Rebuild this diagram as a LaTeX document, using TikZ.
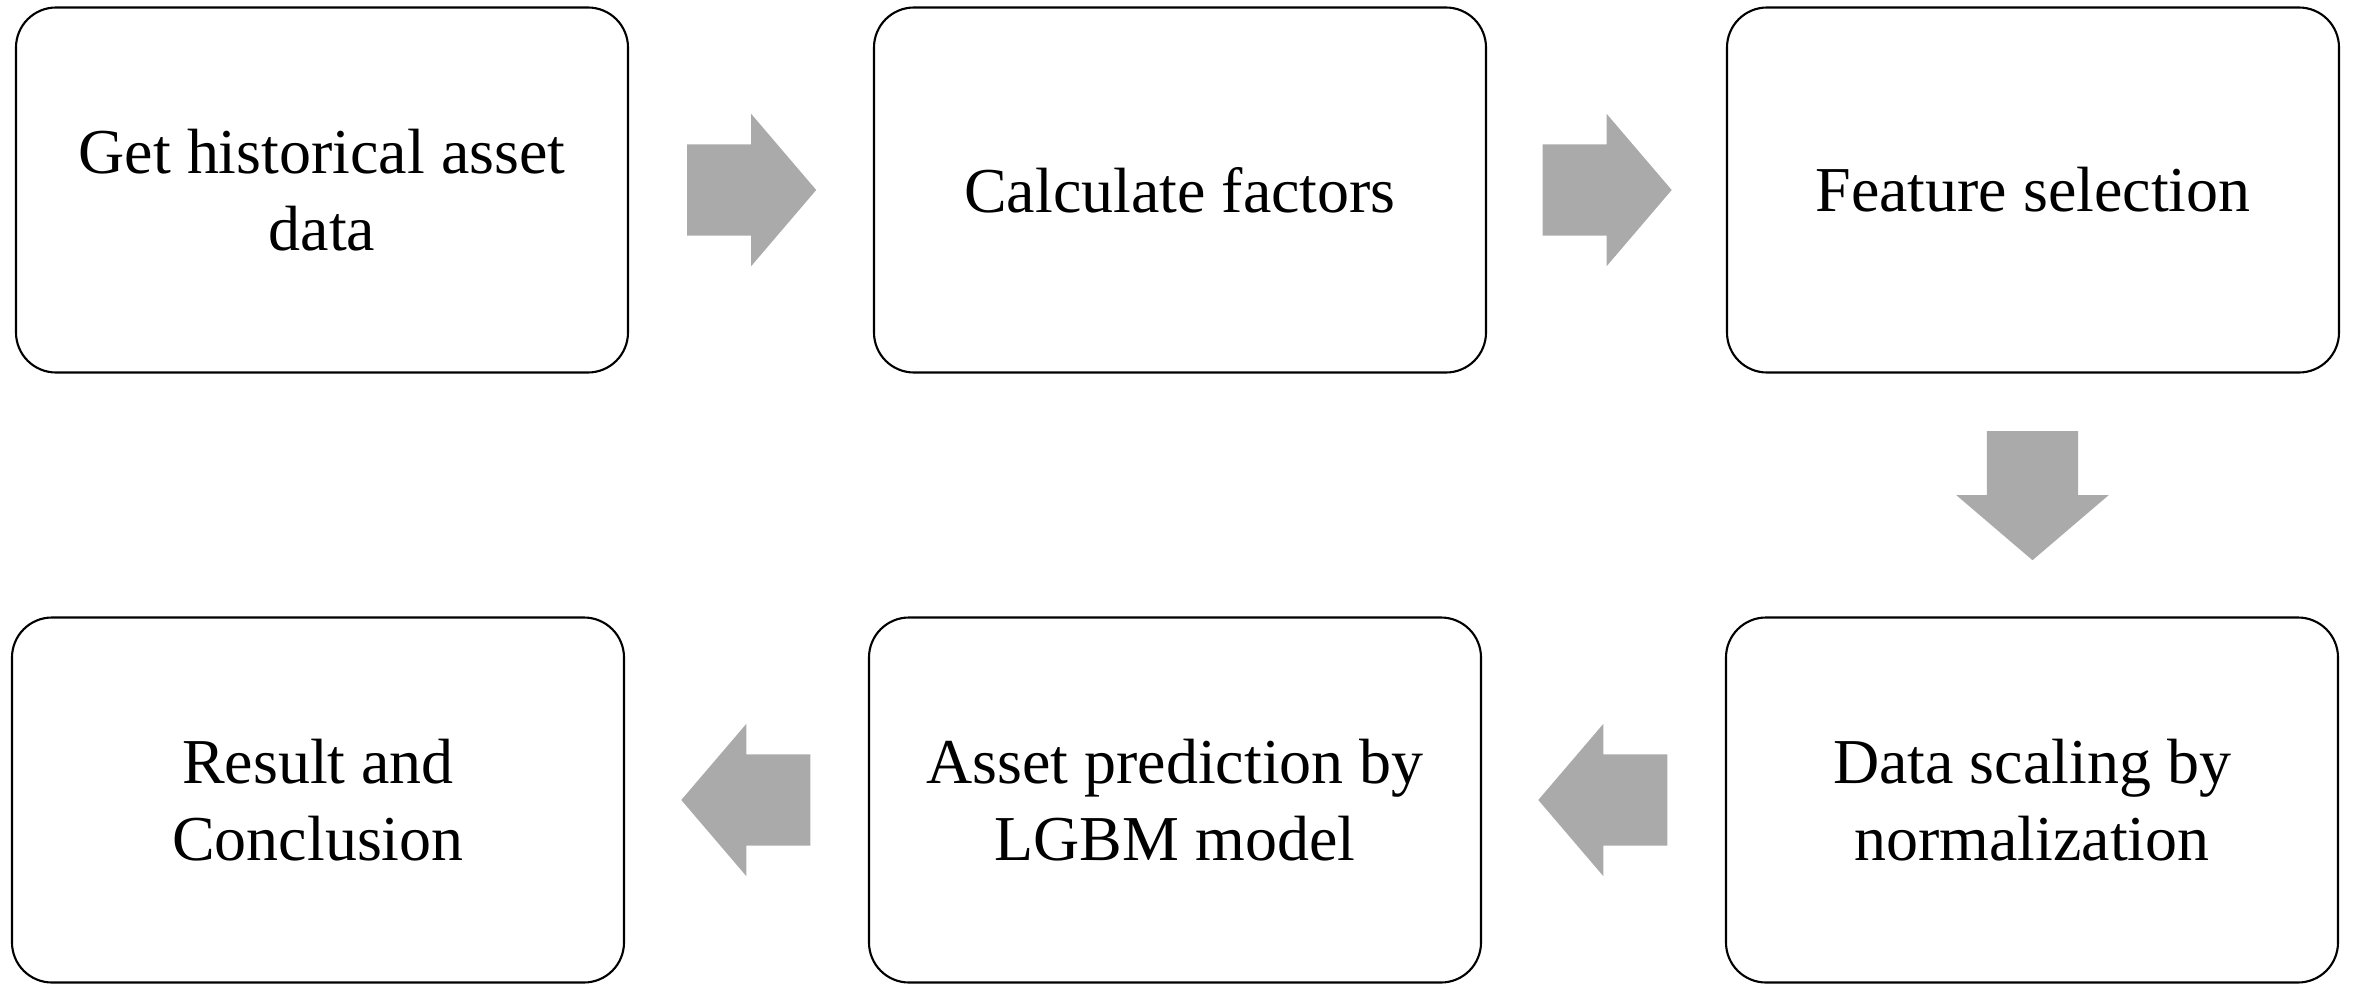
\documentclass[tikz,border=0pt]{standalone}
\usepackage{fontspec}
\setmainfont{Liberation Serif}
\usetikzlibrary{calc}
\usetikzlibrary{shapes.arrows}
\definecolor{arrowgray}{RGB}{170,170,170}

\begin{document}
\begin{tikzpicture}[
    stage/.style={draw, line width=0.6pt, rounded corners=0.4cm, minimum width=6.12cm, minimum height=3.65cm, align=center, font=\fontsize{18.2}{22}\selectfont},
    flow/.style={single arrow, fill=arrowgray, draw=none, inner xsep=0pt, inner ysep=0.45cm, minimum height=1.29cm, minimum width=1.51cm, single arrow head extend=0.305cm, single arrow tip angle=99, anchor=tail}
]
    \useasboundingbox (0,0) rectangle (23.54,-9.84);

    % Top row
    \node[stage] (data) at (3.22,-1.90) {Get historical asset\\data};
    \node[stage] (factors) at (11.80,-1.90) {Calculate factors};
    \node[stage] (select) at (20.33,-1.90) {Feature selection};

    % Bottom row
    \node[stage] (scale) at (20.32,-8.00) {Data scaling by\\normalization};
    \node[stage] (predict) at (11.75,-8.00) {Asset prediction by\\LGBM model};
    \node[stage] (result) at (3.18,-8.00) {Result and\\Conclusion};

    % Block arrows between the stages (tail half a length before the gap's middle)
    \node[flow] (f1) at ($(data.east)!0.5!(factors.west) + (-0.645,0)$) {};
    \node[flow] (f2) at ($(factors.east)!0.5!(select.west) + (-0.645,0)$) {};
    \node[flow, rotate=-90] (f3) at ($(select.south)!0.5!(scale.north) + (0,0.645)$) {};
    \node[flow, rotate=180] (f4) at ($(scale.west)!0.5!(predict.east) + (0.645,0)$) {};
    \node[flow, rotate=180] (f5) at ($(predict.west)!0.5!(result.east) + (0.645,0)$) {};
\end{tikzpicture}
\end{document}
